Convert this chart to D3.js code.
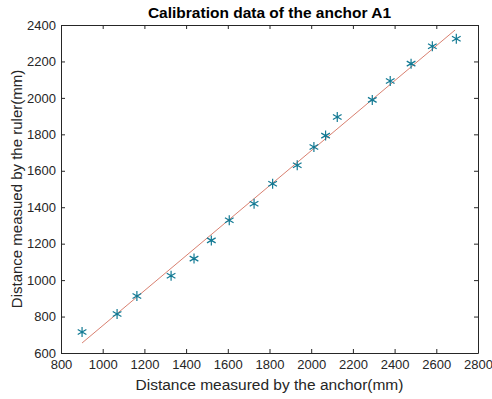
<!DOCTYPE html>
<html>
<head>
<meta charset="utf-8">
<script src="https://cdn.jsdelivr.net/npm/d3@7"></script>
<style>
  body { margin: 0; background: #fff; }
  text { font-family: "Liberation Sans", Arial, sans-serif; }
</style>
</head>
<body>
<svg id="chart"></svg>
<script>
// anchor distance (mm) vs ruler distance (mm)
const anchorDist = [901, 1069, 1164, 1328, 1438, 1521, 1607, 1726, 1815, 1933, 2013, 2069, 2125, 2293, 2379, 2479, 2581, 2696];
const rulerDist = [715, 814, 913, 1024, 1118, 1218, 1328, 1419, 1529, 1630, 1731, 1793, 1895, 1989, 2093, 2188, 2283, 2325];
// fitted line y = slope * x + intercept
const fitSlope = 0.960;
const fitIntercept = -210;
const fitRange = [901, 2690];
const xTicks = [800, 1000, 1200, 1400, 1600, 1800, 2000, 2200, 2400, 2600, 2800];
const yTicks = [600, 800, 1000, 1200, 1400, 1600, 1800, 2000, 2200, 2400];

const width = 492;
const height = 399;
const margin = { top: 25, right: 14, bottom: 46, left: 61 };

const svg = d3.select("#chart")
    .attr("width", width)
    .attr("height", height);

const x = d3.scaleLinear().domain([800, 2800]).range([margin.left, width - margin.right]);
const y = d3.scaleLinear().domain([600, 2400]).range([height - margin.bottom, margin.top]);

const axisColor = "#262626";
const fmt = d3.format("d");

function styleAxis(g) {
    g.select(".domain").attr("stroke", axisColor);
    g.selectAll(".tick line").attr("stroke", axisColor);
    g.selectAll(".tick text").attr("fill", axisColor).attr("font-size", 13);
}

// bottom and left axes with labels, ticks pointing inward
svg.append("g")
    .attr("transform", `translate(0,${y(600)})`)
    .call(d3.axisBottom(x).tickValues(xTicks).tickFormat(fmt).tickSize(-4).tickPadding(7).tickSizeOuter(0))
    .call(styleAxis);

svg.append("g")
    .attr("transform", `translate(${x(800)},0)`)
    .call(d3.axisLeft(y).tickValues(yTicks).tickFormat(fmt).tickSize(-4).tickPadding(5).tickSizeOuter(0))
    .call(styleAxis);

// top and right axes, ticks only
svg.append("g")
    .attr("transform", `translate(0,${y(2400)})`)
    .call(d3.axisTop(x).tickValues(xTicks).tickSize(-4).tickFormat("").tickSizeOuter(0))
    .call(styleAxis);

svg.append("g")
    .attr("transform", `translate(${x(2800)},0)`)
    .call(d3.axisRight(y).tickValues(yTicks).tickSize(-4).tickFormat("").tickSizeOuter(0))
    .call(styleAxis);

// fitted line
svg.append("line")
    .attr("x1", x(fitRange[0]))
    .attr("y1", y(fitSlope * fitRange[0] + fitIntercept))
    .attr("x2", x(fitRange[1]))
    .attr("y2", y(fitSlope * fitRange[1] + fitIntercept))
    .attr("stroke", "#d98070")
    .attr("stroke-width", 1);

// asterisk markers
const star = d3.symbol().type(d3.symbolAsterisk).size(70);
svg.append("g")
    .selectAll("path")
    .data(anchorDist.map((d, i) => [d, rulerDist[i]]))
    .enter().append("path")
    .attr("d", star)
    .attr("transform", d => `translate(${x(d[0])},${y(d[1])})`)
    .attr("fill", "none")
    .attr("stroke", "#137a94")
    .attr("stroke-width", 1.2);

// title and axis labels
svg.append("text")
    .attr("x", (x(800) + x(2800)) / 2)
    .attr("y", 18)
    .attr("text-anchor", "middle")
    .attr("font-size", 15.5)
    .attr("font-weight", "bold")
    .attr("fill", "#000")
    .text("Calibration data of the anchor A1");

svg.append("text")
    .attr("x", (x(800) + x(2800)) / 2)
    .attr("y", 390)
    .attr("text-anchor", "middle")
    .attr("font-size", 15.5)
    .attr("fill", axisColor)
    .text("Distance measured by the anchor(mm)");

svg.append("text")
    .attr("transform", `translate(22,${(y(600) + y(2400)) / 2}) rotate(-90)`)
    .attr("text-anchor", "middle")
    .attr("font-size", 15)
    .attr("fill", axisColor)
    .text("Distance measued by the ruler(mm)");
</script>
</body>
</html>
